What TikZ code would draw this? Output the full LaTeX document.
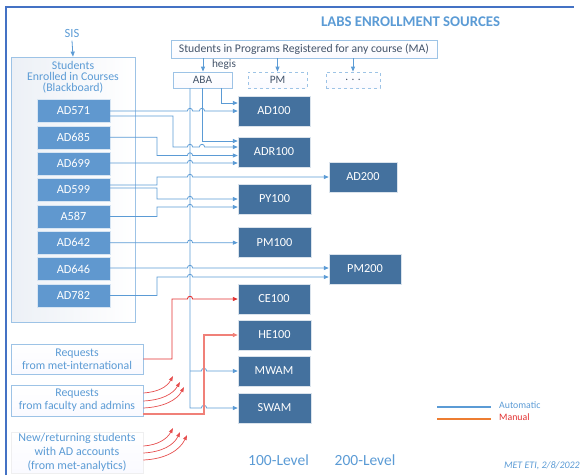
\documentclass[tikz,border=0pt]{standalone}
\usepackage{fontspec}
\setmainfont{Carlito}
\usetikzlibrary{arrows.meta}
\definecolor{frameblue}{RGB}{68,114,196}
\definecolor{textblue}{RGB}{91,155,213}
\definecolor{darktext}{RGB}{68,84,106}
\definecolor{srcfill}{RGB}{96,152,207}
\definecolor{tgtfill}{RGB}{68,113,158}
\definecolor{lineblue}{RGB}{91,155,213}
\definecolor{edgeblue}{RGB}{157,195,230}
\definecolor{bbshade}{RGB}{236,240,246}
\definecolor{redline}{RGB}{226,48,48}
\definecolor{salmon}{RGB}{240,128,120}
\definecolor{orangeline}{RGB}{237,125,49}
\newcommand{\hopat}[2]{-- (#1-2.6,#2) .. controls (#1-2.6,#2-3.6) and (#1+2.6,#2-3.6) .. (#1+2.6,#2)}
\tikzset{
  srcbox/.style={draw=white!75!srcfill, fill=srcfill, text=white, minimum width=73pt, minimum height=23pt, inner sep=0pt, font=\fontsize{12.3}{13}\selectfont},
  tgtbox/.style={draw=white!80!tgtfill, fill=tgtfill, text=white, minimum width=72pt, minimum height=30pt, inner sep=0pt, font=\fontsize{12.3}{13}\selectfont},
  lightbox/.style={draw=edgeblue, line width=0.8pt, top color=white, bottom color=blue!2, inner sep=0pt},
  reqbox/.style={lightbox, minimum width=132pt, text=textblue, align=center, font=\fontsize{11.8}{13}\selectfont},
  conn/.style={draw=lineblue, line width=0.8pt, -{Triangle[length=5pt,width=4pt]}},
  rconn/.style={draw=redline, line width=0.9pt, -{Triangle[length=5pt,width=4pt]}},
  sconn/.style={draw=salmon, line width=1.2pt, -{Triangle[length=5pt,width=4pt]}},
  curvy/.style={draw=redline!85!white, line width=0.7pt, -{Triangle[length=5pt,width=3.5pt]}},
}
\begin{document}
\begin{tikzpicture}[x=1pt,y=-1pt]
\useasboundingbox (0,0) rectangle (584,475);
% frame
\draw[frameblue, line width=2.4pt] (6,475) -- (6,7) -- (574,7);
% title
\node[text=textblue, font=\bfseries\fontsize{14.8}{16}\selectfont] (title) at (410.5,22) {LABS ENROLLMENT SOURCES};
% SIS and Blackboard box
\node[text=textblue, font=\fontsize{12.5}{13}\selectfont] (sis) at (72,33) {SIS};
\node[draw=edgeblue, line width=0.8pt, left color=bbshade, right color=white, minimum width=124pt, minimum height=265pt, inner sep=0pt] (bb) at (73,189.5) {};
\node[text=textblue, align=center, font=\fontsize{11.8}{10.8}\selectfont] (bbtext) at (73,77) {Students\\Enrolled in Courses\\(Blackboard)};
\draw[conn] (sis.south) -- (bb.north);
% program boxes
\node[lightbox, text=darktext, minimum width=266pt, minimum height=18pt, font=\fontsize{11.7}{12}\selectfont] (ma) at (304,49) {Students in Programs Registered for any course (MA)};
\node[lightbox, text=darktext, minimum width=59pt, minimum height=16pt, font=\fontsize{11.3}{12}\selectfont] (aba) at (202.5,80) {ABA};
\node[lightbox, dashed, text=darktext, minimum width=59pt, minimum height=16pt, font=\fontsize{11.3}{12}\selectfont] (pm) at (277.5,80) {PM};
\node[lightbox, dashed, text=darktext, minimum width=54pt, minimum height=16pt, font=\fontsize{11.3}{12}\selectfont] (dots) at (353,80) {. . .};
\node[text=darktext, font=\fontsize{11.3}{12}\selectfont] (hegis) at (224,64.5) {hegis};
\draw[conn] (ma.south -| aba.north) ++(0.5,0) coordinate (maA) (maA) -- (maA |- aba.north);
\draw[conn] (ma.south -| pm.north) -- (pm.north);
\draw[conn] (ma.south -| dots.north) -- (dots.north);
% source boxes
\node[srcbox] (s1) at (73.5,111) {AD571};
\node[srcbox] (s2) at (73.5,137.3) {AD685};
\node[srcbox] (s3) at (73.5,163.7) {AD699};
\node[srcbox] (s4) at (73.5,190) {AD599};
\node[srcbox] (s5) at (73.5,216.4) {A587};
\node[srcbox] (s6) at (73.5,242.7) {AD642};
\node[srcbox] (s7) at (73.5,269.1) {AD646};
\node[srcbox] (s8) at (73.5,295.4) {AD782};
% target boxes
\node[tgtbox] (ad100) at (274,111) {AD100};
\node[tgtbox] (adr100) at (274,152) {ADR100};
\node[tgtbox, minimum width=68pt] (ad200) at (363,177) {AD200};
\node[tgtbox, minimum width=73pt] (py100) at (274.5,199) {PY100};
\node[tgtbox, minimum width=73pt] (pm100) at (274.5,242.5) {PM100};
\node[tgtbox] (pm200) at (365,269) {PM200};
\node[tgtbox] (ce100) at (274,299) {CE100};
\node[tgtbox, minimum width=73pt] (he100) at (274.5,335) {HE100};
\node[tgtbox] (mwam) at (274,371) {MWAM};
\node[tgtbox, minimum width=73pt] (swam) at (274.5,408) {SWAM};
% request boxes
\node[reqbox, minimum height=30pt] (intl) at (77,359) {Requests\\from met-international};
\node[reqbox, minimum height=31pt] (fac) at (77,400.5) {Requests\\from faculty and admins};
\node[reqbox, draw=blue!4!gray!12, minimum height=41pt, font=\fontsize{12}{14}\selectfont] (newst) at (77,452.5) {New/returning students\\with AD accounts\\(from met-analytics)};
% ABA connectors
\draw[conn] (aba.south -| 221,0) -- (221,103) -- (ad100.west |- 0,103);
\draw[conn] (aba.south -| 202,0) -- (202,141) -- (adr100.west |- 0,141);
\draw[conn] (aba.south -| 190,0) -- (190,408) \hopat{204}{408} -- (swam.west);
\draw[conn] (190,371) \hopat{204}{371} -- (mwam.west);
% course connectors
\draw[conn] (s1.east) \hopat{190}{111} \hopat{202}{111} -- (ad100.west);
\draw[conn] (s1.east |- 0,116) -- (173,116) -- (173,147) \hopat{190}{147} \hopat{202}{147} -- (adr100.west |- 0,147);
\draw[conn] (s2.east) -- (157,137.3) -- (157,155.5) \hopat{190}{155.5} -- (adr100.west |- 0,155.5);
\draw[conn] (s3.east |- 0,163) \hopat{190}{163} -- (adr100.west |- 0,163);
\draw[conn] (s4.east |- 0,185) -- (157,185) -- (157,177) \hopat{190}{177} -- (ad200.west);
\draw[conn] (s4.east |- 0,188) -- (157,188) -- (157,199) \hopat{190}{199} -- (py100.west);
\draw[conn] (s5.east) -- (157,216.4) -- (157,207) \hopat{190}{207} -- (py100.west |- 0,207);
\draw[conn] (s6.east) \hopat{190}{242.7} -- (pm100.west |- 0,242.7);
\draw[conn] (s7.east |- 0,268) \hopat{190}{268} -- (pm200.west |- 0,268);
\draw[conn] (s8.east) -- (157,295.4) -- (157,277) \hopat{190}{277} -- (pm200.west |- 0,277);
% manual connectors
\draw[rconn] (intl.east) -- (172,359) -- (172,299) \hopat{190}{299} -- (ce100.west);
\draw[sconn] (fac.east |- 0,414) -- (204,414) -- (204,335) -- (he100.west);
% curvy arrows
\draw[curvy] (fac.east |- 0,393) .. controls (158,392) and (167,387) .. (173,376);
\draw[curvy] (fac.east |- 0,401) .. controls (162,400) and (173,394) .. (180,382);
\draw[curvy] (fac.east |- 0,408) .. controls (164,407) and (177,400) .. (184,387);
\draw[curvy] (newst.east |- 0,446) .. controls (158,445) and (167,439) .. (173,428);
\draw[curvy] (newst.east |- 0,453) .. controls (162,452) and (174,445) .. (180,432);
\draw[curvy] (newst.east |- 0,460) .. controls (166,459) and (180,450) .. (187,435);
% level labels
\node[text=textblue, font=\fontsize{15.5}{17}\selectfont] (l100) at (278.5,460) {100-Level};
\node[text=textblue, font=\fontsize{15.5}{17}\selectfont] (l200) at (365,460) {200-Level};
% legend
\coordinate (la1) at (437,407); \coordinate (la2) at (491,407);
\coordinate (lm1) at (437,419); \coordinate (lm2) at (491,419);
\draw[lineblue, line width=1.2pt] (la1) -- (la2);
\draw[orangeline, line width=1.2pt] (lm1) -- (lm2);
\node[anchor=west, text=textblue, font=\fontsize{9.8}{10}\selectfont, inner sep=0pt] (lauto) at (499,405.5) {Automatic};
\node[anchor=west, text=redline, font=\fontsize{9.8}{10}\selectfont, inner sep=0pt] (lman) at (499,417.5) {Manual};
\node[anchor=east, text=textblue, font=\itshape\fontsize{10}{11}\selectfont, inner sep=0pt] (credit) at (580,466) {MET ETI, 2/8/2022};
\end{tikzpicture}
\end{document}
